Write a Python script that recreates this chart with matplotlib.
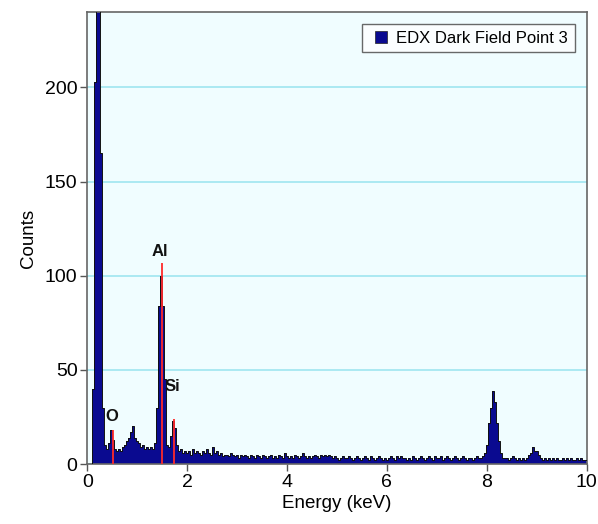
import numpy as np
import matplotlib
matplotlib.use("Agg")
import matplotlib.pyplot as plt
from matplotlib.lines import Line2D

plt.rcParams['font.family'] = ['Liberation Sans', 'DejaVu Sans']

# Energy axis: channel centres every 0.04 keV from 0 to 10 keV
energy_start, energy_stop = 0.0, 10.0
counts = [
    0, 0, 0, 40, 203, 600, 600, 165, 30, 10,       # 0.00-0.36
    8, 11, 18, 13, 8, 7, 8, 7, 9, 10,               # 0.40-0.76
    12, 14, 17, 20, 14, 12, 11, 9, 10, 8,           # 0.80-1.16
    9, 8, 9, 8, 11, 30, 84, 100, 84, 45,            # 1.20-1.56
    10, 9, 15, 23, 19, 10, 7, 8, 6, 7,              # 1.60-1.96
    6, 7, 5, 8, 6, 7, 6, 5, 7, 6,                   # 2.00-2.36
    8, 6, 5, 9, 6, 7, 5, 6, 4, 5,                   # 2.40-2.76
    5, 4, 6, 5, 4, 5, 3, 5, 4, 5,                   # 2.80-3.16
    4, 3, 5, 4, 3, 5, 4, 3, 5, 4,                   # 3.20-3.56
    3, 4, 5, 3, 4, 3, 5, 4, 3, 6,                   # 3.60-3.96
    4, 3, 4, 3, 5, 4, 3, 4, 6, 4,                   # 4.00-4.36
    3, 4, 3, 4, 5, 4, 3, 5, 4, 5,                   # 4.40-4.76
    4, 5, 4, 3, 4, 3, 2, 3, 4, 3,                   # 4.80-5.16
    3, 4, 3, 2, 3, 4, 3, 2, 3, 4,                   # 5.20-5.56
    3, 2, 4, 3, 2, 3, 4, 3, 2, 3,                   # 5.60-5.96
    2, 3, 4, 3, 2, 4, 3, 4, 3, 3,                   # 6.00-6.36
    2, 3, 2, 4, 3, 2, 3, 4, 3, 2,                   # 6.40-6.76
    3, 4, 3, 2, 4, 3, 3, 4, 2, 3,                   # 6.80-7.16
    4, 3, 2, 3, 4, 3, 2, 3, 4, 3,                   # 7.20-7.56
    2, 3, 3, 2, 3, 4, 3, 3, 4, 6,                   # 7.60-7.96
    10, 22, 30, 39, 33, 22, 12, 6, 3, 3,            # 8.00-8.36
    3, 2, 3, 4, 3, 2, 3, 2, 3, 2,                   # 8.40-8.76
    3, 5, 6, 9, 7, 7, 5, 3, 2, 3,                   # 8.80-9.16
    2, 3, 2, 3, 2, 3, 2, 2, 3, 2,                   # 9.20-9.56
    3, 2, 3, 2, 2, 3, 2, 3, 2, 2,                   # 9.60-9.96
    2,                                              # 10.00
]
energy = np.linspace(energy_start, energy_stop, len(counts))

# Element line markers
elements = ["O", "Al", "Si"]
element_energy = [0.52, 1.486, 1.74]
element_marker_top = [18, 107, 24]
element_label_x = [0.50, 1.46, 1.70]
element_label_y = [25, 113, 41]

series_label = "EDX Dark Field Point 3"
xticks = [0, 2, 4, 6, 8, 10]
yticks = [0, 50, 100, 150, 200]

fig = plt.figure(figsize=(5.98, 5.24), dpi=100)
ax = fig.add_axes([0.146, 0.1145, 0.835, 0.8625])
ax.set_facecolor('#f0fdff')

fill_color = '#0a0a90'
ax.fill_between(energy, counts, step='mid', color=fill_color, linewidth=0, zorder=2)
ax.step(energy, counts, where='mid', color='#111111', linewidth=0.7, zorder=3)

ax.vlines(element_energy, 0, element_marker_top, colors='#ff2a2a', linewidth=1.3, zorder=4)
for name, lx, ly in zip(elements, element_label_x, element_label_y):
    ax.text(lx, ly, name, ha='center', va='center', fontsize=12,
            fontweight='bold', color='#111111', zorder=5)

ax.set_xlim(0, 10)
ax.set_ylim(0, 240)
ax.set_xticks(xticks)
ax.set_yticks(yticks)
ax.yaxis.grid(True, color='#9fe6f0', linewidth=1.2, zorder=0)
ax.set_axisbelow(True)
ax.tick_params(axis='both', labelsize=14, length=5, width=1, color='#555555', pad=2)
for s in ax.spines.values():
    s.set_color('#666666')
    s.set_linewidth(1.2)

ax.set_xlabel("Energy (keV)", fontsize=13.5, labelpad=3)
ax.set_ylabel("Counts", fontsize=13.5, labelpad=6)

handle = Line2D([], [], marker='s', linestyle='none', markersize=8.5,
                markerfacecolor=fill_color, markeredgecolor='#222222', markeredgewidth=0.5)
leg = ax.legend([handle], [series_label], loc='upper right', fontsize=12,
                frameon=True, fancybox=False, edgecolor='#444444',
                borderaxespad=0.72, handlelength=1.5,
                handletextpad=0.15, borderpad=0.4)
leg.get_frame().set_linewidth(1.0)
leg.get_frame().set_facecolor('white')

fig.savefig("out.png", dpi=100)
